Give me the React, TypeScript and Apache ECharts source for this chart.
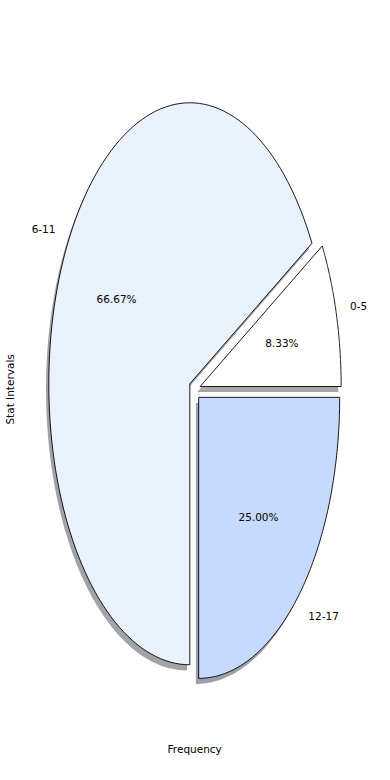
import React, { useEffect, useRef } from "react";
import * as echarts from "echarts";

const labels = ["0-5", "6-11", "12-17"];
const counts = [1, 8, 3];
const colors = ["#FFFFFF", "#EAF1FF", "#C6D9FF"];

const EXPLODE = 0.04;
const SHADOW_DX = -0.02;
const SHADOW_DY = -0.02;
const FONT = "'DejaVu Sans', sans-serif";
const FS = 10.5;

function hexToRgb(h: string) {
  const n = parseInt(h.slice(1), 16);
  return [(n >> 16) & 255, (n >> 8) & 255, n & 255];
}

export default function App() {
  const ref = useRef<HTMLDivElement>(null);
  useEffect(() => {
    if (!ref.current) return;
    const chart = echarts.init(ref.current, undefined, { renderer: "svg" });
    const total = counts.reduce((a, b) => a + b, 0);
    const starts: number[] = [];
    let acc = 0;
    counts.forEach((v) => {
      starts.push((acc / total) * 360);
      acc += v;
    });

    const geom = (i: number) => {
      const a0 = starts[i];
      const a1 = a0 + (counts[i] / total) * 360;
      const m = ((a0 + a1) / 2) * (Math.PI / 180);
      const cx = EXPLODE * Math.cos(m);
      const cy = EXPLODE * Math.sin(m);
      const pts: number[][] = [[cx, cy]];
      const N = 120;
      for (let k = 0; k <= N; k++) {
        const t = (a0 + ((a1 - a0) * k) / N) * (Math.PI / 180);
        pts.push([cx + Math.cos(t), cy + Math.sin(t)]);
      }
      return { pts, m, cx, cy };
    };

    const data = counts.map((v, i) => [i, v]);

    const shadowItem = (params: any, api: any) => {
      const i = api.value(0);
      const { pts } = geom(i);
      const [r, g, b] = hexToRgb(colors[i]);
      return {
        type: "polygon",
        shape: { points: pts.map((p) => api.coord([p[0] + SHADOW_DX, p[1] + SHADOW_DY])) },
        style: { fill: `rgba(${Math.round(r * 0.3)},${Math.round(g * 0.3)},${Math.round(b * 0.3)},0.5)` },
      };
    };

    const sliceItem = (params: any, api: any) => {
      const i = api.value(0);
      const { pts, m, cx, cy } = geom(i);
      const lp = api.coord([cx + 1.1 * Math.cos(m), cy + 1.1 * Math.sin(m)]);
      const pp = api.coord([cx + 0.6 * Math.cos(m), cy + 0.6 * Math.sin(m)]);
      const pct = ((counts[i] / total) * 100).toFixed(2) + "%";
      return {
        type: "group",
        children: [
          {
            type: "polygon",
            shape: { points: pts.map((p) => api.coord(p)) },
            style: { fill: colors[i], stroke: "#000", lineWidth: 0.9, lineJoin: "miter" },
          },
          {
            type: "text",
            x: lp[0],
            y: lp[1],
            style: {
              text: labels[i],
              fill: "#000",
              font: `${FS}px ${FONT}`,
              align: Math.cos(m) < 0 ? "right" : "left",
              verticalAlign: "middle",
            },
          },
          {
            type: "text",
            x: pp[0],
            y: pp[1],
            style: {
              text: pct,
              fill: "#000",
              font: `${FS}px ${FONT}`,
              align: "center",
              verticalAlign: "middle",
            },
          },
        ],
      };
    };

    const hiddenAxis = {
      type: "value",
      min: -1.25,
      max: 1.25,
      axisLine: { show: false },
      axisTick: { show: false },
      axisLabel: { show: false },
      splitLine: { show: false },
      nameLocation: "middle",
      nameTextStyle: { fontFamily: FONT, fontSize: FS, color: "#000" },
    };

    chart.setOption({
      animation: false,
      backgroundColor: "#fff",
      grid: {
        left: 18.45,
        top: 38.15,
        width: 352.5,
        height: 702.5,
        containLabel: false,
        outerBoundsMode: "none",
      },
      xAxis: { ...hiddenAxis, name: "Frequency", nameGap: 2.5 },
      yAxis: { ...hiddenAxis, name: "Stat Intervals", nameGap: 2.5 },
      series: [
        { type: "custom", renderItem: shadowItem, data, z: 1, silent: true },
        { type: "custom", renderItem: sliceItem, data, z: 2, silent: true },
      ],
    });
    return () => chart.dispose();
  }, []);
  return (
    <div
      ref={ref}
      style={{ position: "fixed", left: 0, top: 0, width: 390, height: 780 }}
    />
  );
}
